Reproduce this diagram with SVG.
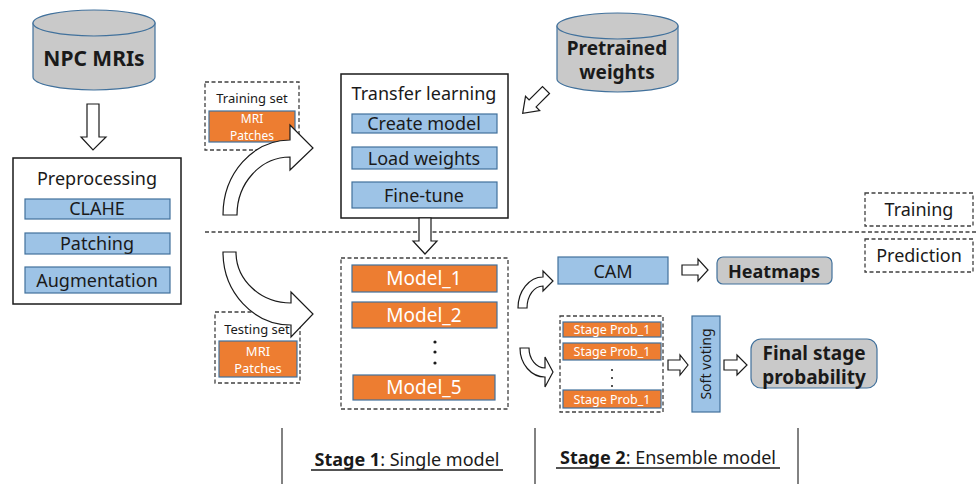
<svg xmlns="http://www.w3.org/2000/svg" width="977" height="484" viewBox="0 0 977 484">
<style>
text{font-family:"Noto Sans","Open Sans","Liberation Sans",sans-serif;fill:#1a1a1a;text-anchor:middle}
.b{font-weight:bold}
.w{fill:#ffffff}
.blue{fill:#9dc3e6;stroke:#41719c;stroke-width:1.2}
.org{fill:#ed7d31;stroke:#41719c;stroke-width:1.2}
.gray{fill:#c9c9c9;stroke:#41719c;stroke-width:1.2}
.box{fill:#ffffff;stroke:#1a1a1a;stroke-width:1.5}
.dash{fill:none;stroke:#404040;stroke-width:1.3;stroke-dasharray:4,2.5}
.arr{fill:#ffffff;stroke:#1a1a1a;stroke-width:1.2;stroke-linejoin:miter}
.sep{stroke:#595959;stroke-width:1.5}
</style>
<rect width="977" height="484" fill="#ffffff"/>

<g id="npc-mris">
<path class="gray" d="M33,23 L33,77 A61,13 0 0 0 155,77 L155,23 Z"/>
<ellipse class="gray" cx="94" cy="23" rx="61" ry="13"/>
<text class="b" x="94" y="66" font-size="21">NPC MRIs</text>
</g>

<g id="preprocessing">
<rect class="box" x="13" y="158" width="168" height="146"/>
<text x="97" y="185" font-size="18">Preprocessing</text>
<rect class="blue" x="25" y="199" width="145" height="20"/>
<text x="97" y="215" font-size="18">CLAHE</text>
<rect class="blue" x="25" y="233" width="145" height="21"/>
<text x="97" y="250" font-size="18">Patching</text>
<rect class="blue" x="25" y="267" width="145" height="26"/>
<text x="97" y="287" font-size="18">Augmentation</text>
</g>

<g id="training-set">
<rect class="dash" x="205" y="82" width="94" height="68"/>
<text x="252" y="103" font-size="13">Training set</text>
<rect class="org" x="209" y="111" width="86" height="31"/>
<text class="w" x="252" y="123" font-size="12">MRI</text>
<text class="w" x="252" y="140" font-size="12">Patches</text>
</g>

<g id="testing-set">
<rect class="dash" x="215" y="312" width="85" height="71"/>
<text x="257" y="334" font-size="13">Testing set</text>
<rect class="org" x="219" y="341" width="78" height="36"/>
<text class="w" x="258" y="356" font-size="13">MRI</text>
<text class="w" x="258" y="373" font-size="13">Patches</text>
</g>

<g id="transfer-learning">
<rect class="box" x="341" y="74" width="167" height="144"/>
<text x="424" y="100" font-size="18">Transfer learning</text>
<rect class="blue" x="352" y="114" width="145" height="19"/>
<text x="424" y="130" font-size="18">Create model</text>
<rect class="blue" x="352" y="147" width="145" height="22"/>
<text x="424" y="165" font-size="18">Load weights</text>
<rect class="blue" x="352" y="182" width="145" height="26"/>
<text x="424" y="202" font-size="18">Fine-tune</text>
</g>

<g id="pretrained-weights">
<path class="gray" d="M557,26 L557,79 A60.5,13 0 0 0 678,79 L678,26 Z"/>
<ellipse class="gray" cx="617.5" cy="26" rx="60.5" ry="13"/>
<text class="b" x="617" y="55" font-size="19">Pretrained</text>
<text class="b" x="617" y="79" font-size="19">weights</text>
</g>

<g id="training-label">
<rect class="dash" x="865" y="193" width="108" height="33"/>
<text x="919" y="216" font-size="18">Training</text>
</g>

<g id="prediction-label">
<rect class="dash" x="865" y="239" width="108" height="33"/>
<text x="919" y="262" font-size="18">Prediction</text>
</g>

<g id="models">
<rect class="dash" x="341" y="258" width="167" height="151"/>
<rect class="org" x="352" y="265" width="145" height="27"/>
<text class="w" x="424" y="285" font-size="19">Model_1</text>
<rect class="org" x="352" y="302" width="145" height="26"/>
<text class="w" x="424" y="322" font-size="19">Model_2</text>
<circle cx="435" cy="342" r="1.6" fill="#1a1a1a"/>
<circle cx="435" cy="352" r="1.6" fill="#1a1a1a"/>
<circle cx="435" cy="363" r="1.6" fill="#1a1a1a"/>
<rect class="org" x="353" y="375" width="142" height="25"/>
<text class="w" x="424" y="394" font-size="19">Model_5</text>
</g>

<g id="cam">
<rect class="blue" x="558" y="257" width="110" height="27"/>
<text x="613" y="278" font-size="18">CAM</text>
</g>

<g id="heatmaps">
<rect class="gray" x="717" y="257" width="115" height="27" rx="6"/>
<text class="b" x="774" y="278" font-size="18">Heatmaps</text>
</g>

<g id="stage-probs">
<rect class="dash" x="560" y="316" width="103" height="96"/>
<rect class="org" x="563" y="322" width="98" height="15"/>
<text class="w" x="612" y="334" font-size="12.5">Stage Prob_1</text>
<rect class="org" x="563" y="343" width="98" height="17"/>
<text class="w" x="612" y="356" font-size="12.5">Stage Prob_1</text>
<circle cx="612" cy="370" r="1" fill="#1a1a1a"/>
<circle cx="612" cy="378" r="1" fill="#1a1a1a"/>
<circle cx="612" cy="386" r="1" fill="#1a1a1a"/>
<rect class="org" x="563" y="390" width="98" height="18"/>
<text class="w" x="612" y="404" font-size="12.5">Stage Prob_1</text>
</g>

<g id="soft-voting">
<rect class="blue" x="692" y="316" width="28" height="96"/>
<text x="0" y="0" font-size="14" transform="translate(711,364) rotate(-90)">Soft voting</text>
</g>

<g id="final-stage">
<rect class="gray" x="751" y="339" width="126" height="49" rx="10"/>
<text class="b" x="814" y="360" font-size="19">Final stage</text>
<text class="b" x="814" y="384" font-size="19">probability</text>
</g>

<g id="connectors">
<line class="dash" x1="205" y1="232" x2="977" y2="232" stroke-width="1"/>
<polygon class="arr" points="87,104 99,104 99,137 106,137 93,150 81,137 87,137"/>
<path class="arr" d="M223,215 A67,75 0 0 1 290,140 L290,125 L313,148 L290,170 L290,157 A53,58 0 0 0 237,215 Z"/>
<path class="arr" d="M223,252 L236,252 A55,51 0 0 0 291,303 L291,292 L313,314 L291,337 L291,325 A68,73 0 0 1 223,252 Z"/>
<polygon class="arr" points="549.5,93.5 536.1,106.9 539.7,110.5 522.7,113.3 525.5,96.3 529.1,99.9 542.5,86.5"/>
<polygon class="arr" points="419,218 431,218 431,241 437,241 425,254 413,241 419,241"/>
<polygon class="arr" points="682,265 698,265 698,259 708,270 698,281 698,275 682,275"/>
<path class="arr" d="M518,308 A25,31 0 0 1 543,277 L543,271 L553,281 L543,291 L543,286 A16,22 0 0 0 527,308 Z"/>
<path class="arr" d="M520,348 L529,348 A16,20 0 0 0 545,368 L545,357 L553,372 L545,387 L545,377 A25,29 0 0 1 520,348 Z"/>
<polygon class="arr" points="668,360 680,360 680,355 688,365 680,375 680,370 668,370"/>
<polygon class="arr" points="724,360 737,360 737,355 747,365 737,375 737,370 724,370"/>
</g>

<g id="stages">
<line class="sep" x1="282" y1="428" x2="282" y2="484"/>
<line class="sep" x1="535" y1="428" x2="535" y2="484"/>
<line class="sep" x1="798" y1="428" x2="798" y2="484"/>
<text x="407" y="466" font-size="18"><tspan class="b">Stage 1</tspan>: Single model</text>
<line x1="311" y1="470" x2="503" y2="470" stroke="#1a1a1a" stroke-width="1.3"/>
<text x="668" y="464" font-size="18"><tspan class="b">Stage 2</tspan>: Ensemble model</text>
<line x1="556" y1="468" x2="780" y2="468" stroke="#1a1a1a" stroke-width="1.3"/>
</g>
</svg>
